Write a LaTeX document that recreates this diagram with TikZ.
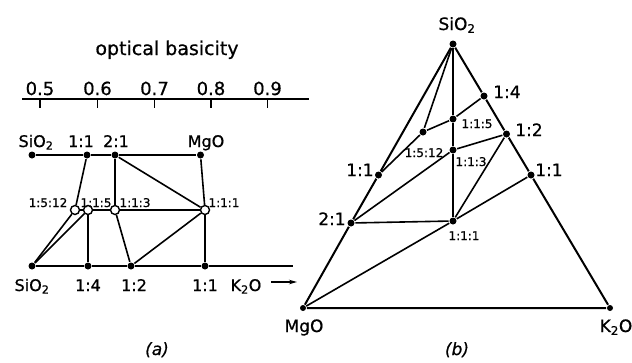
\documentclass[tikz,border=0pt]{standalone}
\usepackage{fontspec}
\setmainfont{DejaVu Sans}[FakeBold=0.7]
\usepackage{tikz}
\usetikzlibrary{arrows.meta}

\begin{document}
\begin{tikzpicture}[x=1pt,y=-1pt,line width=1.6pt,
    dot/.style={circle,fill,inner sep=0pt,minimum size=7pt},
    odot/.style={circle,draw,fill=white,inner sep=0pt,minimum size=9pt,line width=1.4pt},
    txt/.style={inner sep=0pt,anchor=base,font=\fontsize{16}{18}\selectfont},
    btxt/.style={inner sep=0pt,anchor=base,font=\fontsize{17}{19}\selectfont},
    stxt/.style={inner sep=0pt,anchor=base,font=\fontsize{12}{14}\selectfont},
    caption/.style={inner sep=0pt,anchor=base,font=\fontsize{17}{19}\selectfont\itshape}]
    \useasboundingbox (0,0) rectangle (632,362);

    \node[inner sep=0pt,anchor=base,font=\fontsize{19}{21}\selectfont] (title) at (167,55) {optical basicity};
    \coordinate (axL) at (22,99);
    \coordinate (axR) at (309,99);
    \draw (axL) -- (axR);
    \foreach \v/\x [count=\i] in {0.5/40,0.6/97.5,0.7/154.5,0.8/211,0.9/267.5} {
        \coordinate (tk\i) at (\x,99);
        \draw (tk\i) -- ++(0,9);
        \node[inner sep=0pt,anchor=base,font=\fontsize{18}{20}\selectfont] (val\i) at (\x,95) {\v};
    }

    \node[dot] (aSiT) at (32,155) {};
    \node[dot] (a11T) at (87,155) {};
    \node[dot] (a21T) at (115,155) {};
    \node[dot] (aMgT) at (200.5,155) {};
    \node[odot] (a1512) at (75,210) {};
    \node[odot] (a115) at (88,210) {};
    \node[odot] (a113) at (115,210) {};
    \node[odot] (a111) at (205,210) {};
    \node[dot] (aSiB) at (32,266) {};
    \node[dot] (a14) at (88,266) {};
    \node[dot] (a12) at (131,266) {};
    \node[dot] (a11B) at (205,266) {};
    \coordinate (aEnd) at (293,266);
    \coordinate (arL) at (271,282);
    \coordinate (arR) at (297,282);

    \draw (aSiT) -- (a11T) -- (a21T) -- (aMgT);
    \draw (a11T) -- (a1512);
    \draw (a21T) -- (a113);
    \draw (a21T) -- (a111);
    \draw (aMgT) -- (a111);
    \draw (a1512) -- (a115) -- (a113) -- (a111);
    \draw (aSiB) -- (a1512);
    \draw (aSiB) -- (a115);
    \draw (a115) -- (a14);
    \draw (a113) -- (a12);
    \draw (a12) -- (a111);
    \draw (a111) -- (a11B);
    \draw (aSiB) -- (a14) -- (a12) -- (a11B) -- (aEnd);
    \draw[-{Stealth[length=8pt,width=4.5pt]}] (arL) -- (arR);

    \node[txt] (laSiT) at (36,147) {SiO\textsubscript{2}};
    \node[txt] (la11T) at (81,147) {1:1};
    \node[txt] (la21T) at (116,147) {2:1};
    \node[txt] (laMgT) at (206,147) {MgO};
    \node[stxt] (la1512) at (48,207) {1:5:12};
    \node[stxt] (la115) at (96,207) {1:1:5};
    \node[stxt] (la113) at (135,207) {1:1:3};
    \node[stxt] (la111) at (224,207) {1:1:1};
    \node[txt] (laSiB) at (32,291) {SiO\textsubscript{2}};
    \node[txt] (la14) at (88,291) {1:4};
    \node[txt] (la12) at (134,291) {1:2};
    \node[txt] (la11B) at (205,291) {1:1};
    \node[txt] (laK) at (246,291) {K\textsubscript{2}O};
    \node[caption] (capA) at (157,355) {(a)};

    \node[dot] (bSi) at (453,44) {};
    \node[dot,minimum size=6pt] (bMg) at (303,308) {};
    \node[dot,minimum size=6pt] (bK) at (610,308) {};
    \node[dot] (b14) at (484,96) {};
    \node[dot] (b12) at (506.5,134) {};
    \node[dot] (b11R) at (531,175) {};
    \node[dot] (b11L) at (378.5,175) {};
    \node[dot] (b21) at (351,223) {};
    \node[dot] (b115) at (453,119) {};
    \node[dot] (b1512) at (423,132) {};
    \node[dot] (b113) at (453,150) {};
    \node[dot] (b111) at (453,221) {};

    \draw[line width=2pt] (bSi) -- (b11L) -- (b21) -- (bMg) -- (bK) -- (b11R) -- (b12) -- (b14) -- (bSi);
    \draw (bSi) -- (b1512);
    \draw (bSi) -- (b115) -- (b113) -- (b111);
    \draw (b11L) -- (b1512) -- (b115) -- (b14);
    \draw (b21) -- (b113) -- (b12);
    \draw (b12) -- (b111);
    \draw (b21) -- (b111);
    \draw (bMg) -- (b111) -- (b11R);

    \node[btxt] (lbSi) at (457,30) {SiO\textsubscript{2}};
    \node[btxt] (lb14) at (507,98) {1:4};
    \node[btxt] (lb12) at (529,136) {1:2};
    \node[btxt] (lb11R) at (549,176) {1:1};
    \node[btxt] (lb11L) at (360,176) {1:1};
    \node[btxt] (lb21) at (332,225) {2:1};
    \node[btxt] (lbMg) at (304,332) {MgO};
    \node[btxt] (lbK) at (616,332) {K\textsubscript{2}O};
    \node[stxt] (lb115) at (477,128) {1:1:5};
    \node[stxt] (lb1512) at (424,157) {1:5:12};
    \node[stxt] (lb113) at (471,166) {1:1:3};
    \node[stxt] (lb111) at (464,240) {1:1:1};
    \node[caption] (capB) at (457,355) {(b)};
\end{tikzpicture}
\end{document}
